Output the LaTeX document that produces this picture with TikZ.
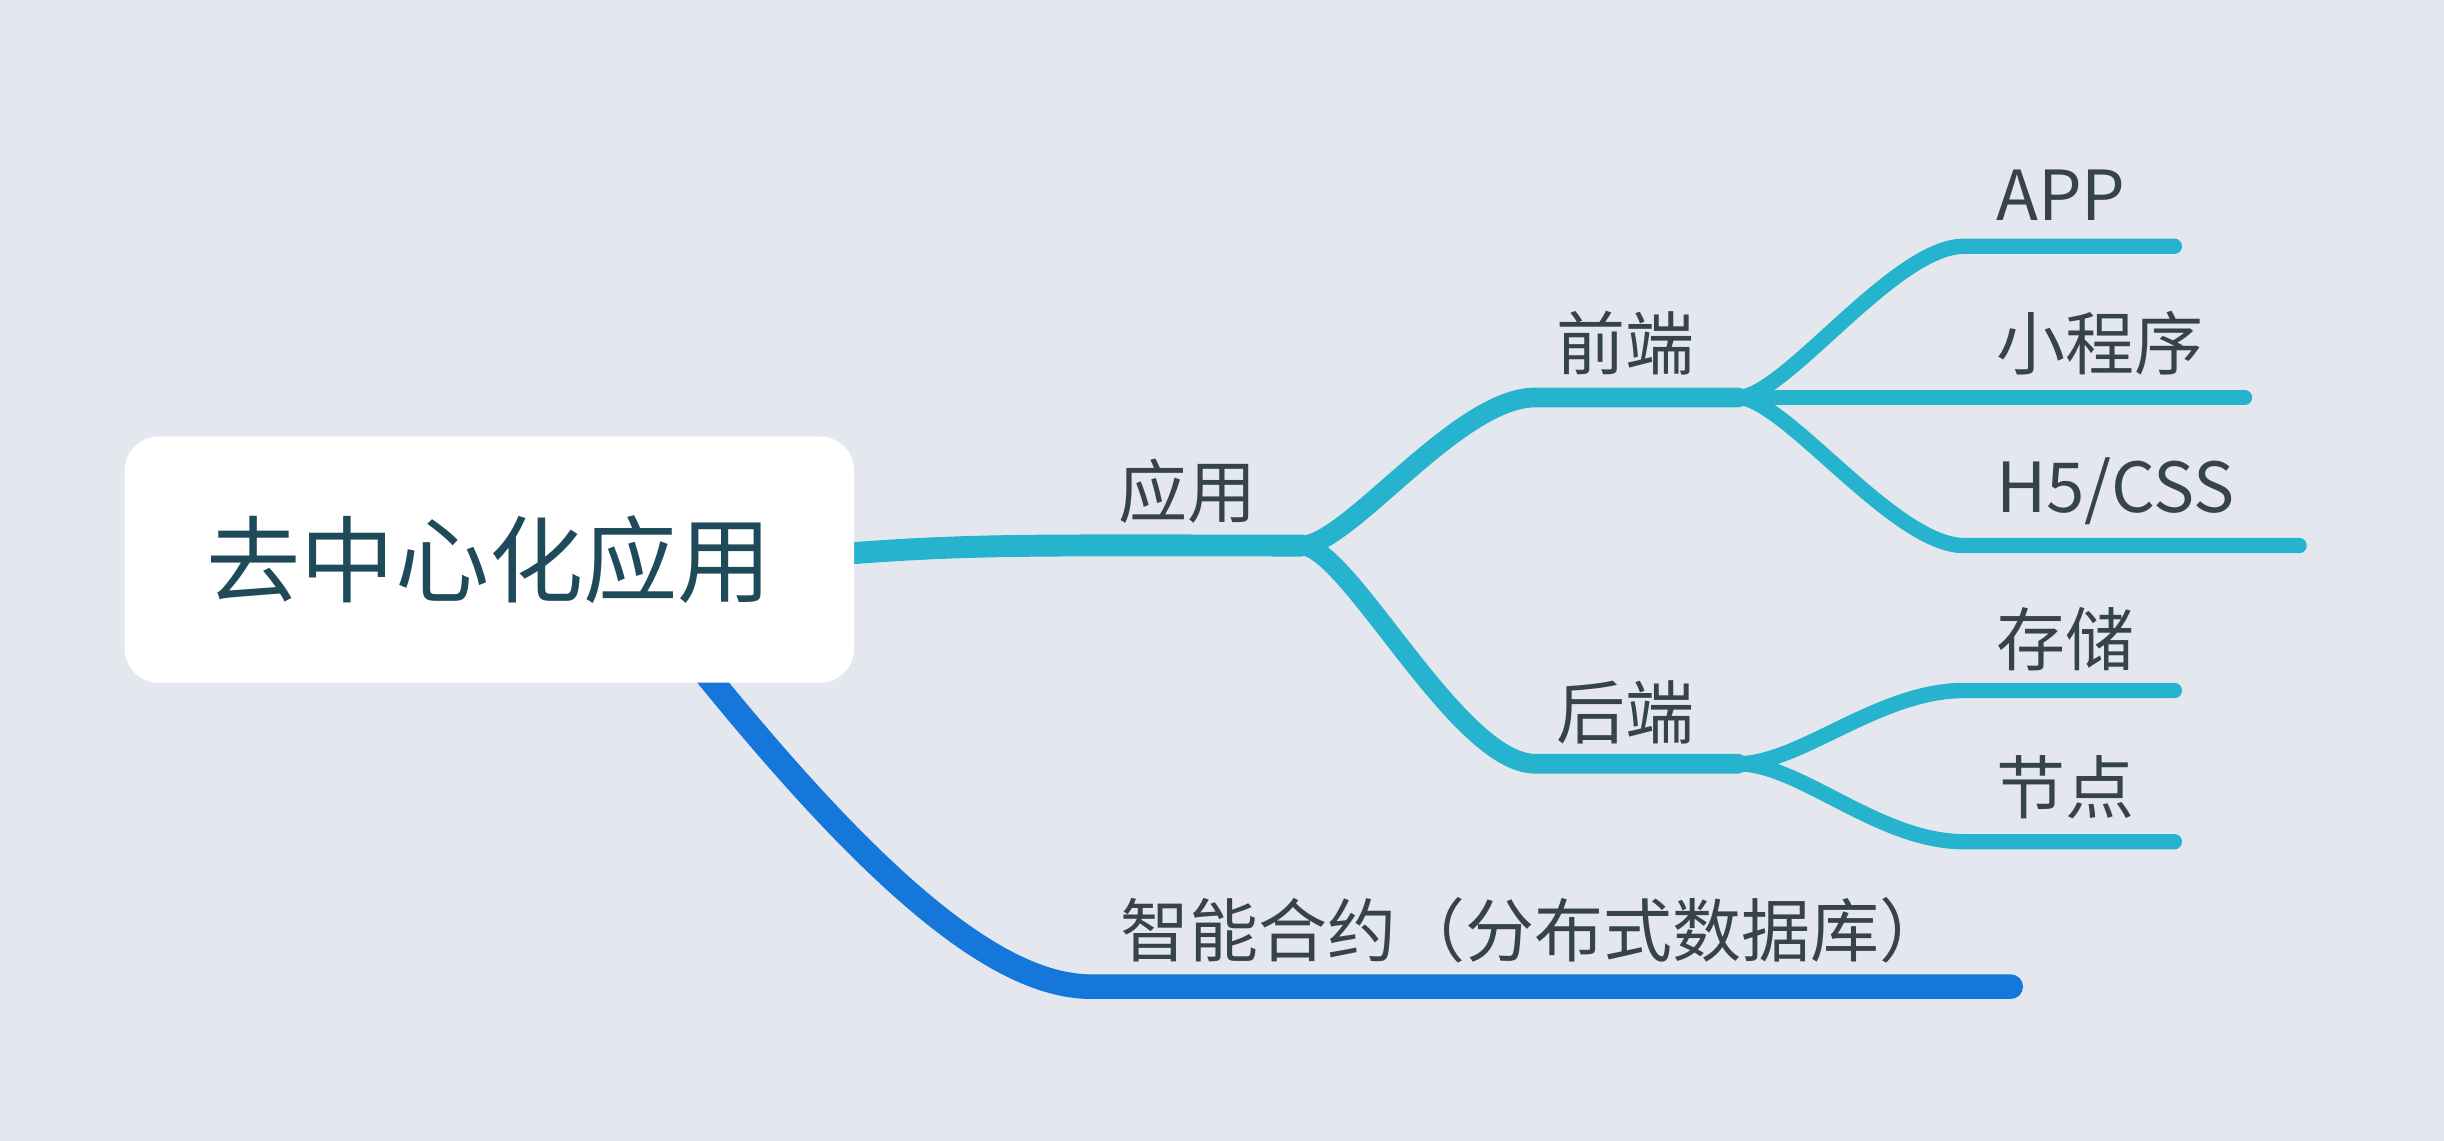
\documentclass[tikz,border=0pt]{standalone}
\usepackage{fontspec}
\setmainfont{Noto Sans CJK SC}
\usepackage{xcolor}
\usepackage{tikz}
\usetikzlibrary{positioning}
\definecolor{bgcol}{HTML}{E4E8EE}
\definecolor{cyanline}{HTML}{25B3CE}
\definecolor{blueline}{HTML}{1677DB}
\definecolor{roottext}{HTML}{1E4A5A}
\definecolor{labeltext}{HTML}{36434C}
\pgfdeclarelayer{back}
\pgfdeclarelayer{lines}
\pgfsetlayers{back,lines,main}

\begin{document}
\begin{tikzpicture}[
    root/.style={rectangle, rounded corners=0.22cm, fill=white, minimum width=4.68cm, minimum height=1.58cm, text=roottext, font=\fontsize{17.2}{20}\selectfont},
    lbl/.style={text=labeltext, inner sep=0pt, font=\fontsize{12.6}{15}\selectfont},
    branch/.style={cyanline, line width=3.6pt, line cap=round},
    twig/.style={cyanline, line width=2.8pt, line cap=round}
  ]
      \useasboundingbox (0,0) rectangle (15.68,7.32);
      \begin{pgfonlayer}{back}
        \fill[bgcol] (0,0) rectangle (15.68,7.32);
      \end{pgfonlayer}

      \node[root] (root) at (3.14,3.73) {去中心化应用};

      \coordinate (japp) at (8.35,3.82);
      \coordinate (jfront) at (11.15,4.77);
      \coordinate (jback) at (11.15,2.42);
      \coordinate (eapp) at (13.95,5.74);
      \coordinate (emini) at (14.4,4.77);
      \coordinate (eweb) at (14.75,3.82);
      \coordinate (estore) at (13.95,2.89);
      \coordinate (enode) at (13.95,1.92);
      \coordinate (econ) at (12.9,0.99);

      \begin{pgfonlayer}{lines}
        % root to app
        \draw [branch, line width=4pt] ([yshift=1.2pt]root.east) .. controls +(0.8,0.06) and +(-1.6,0) .. (japp);
        % app to front
        \draw [branch] (japp) .. controls +(0.3,0) and +(-0.5,0) .. ([xshift=-1.3cm]jfront) -- (jfront);
        % app to back
        \draw [branch] (japp) .. controls +(0.3,0) and +(-0.5,0) .. ([xshift=-1.3cm]jback) -- (jback);

        % front to app, mini, web
        \draw [twig] (jfront) .. controls +(0.3,0) and +(-0.45,0) .. ([xshift=-1.35cm]eapp) -- (eapp);
        \draw [twig] (jfront) -- (emini);
        \draw [twig] (jfront) .. controls +(0.3,0) and +(-0.45,0) .. ([xshift=-2.15cm]eweb) -- (eweb);

        % back to store, node
        \draw [twig] (jback) .. controls +(0.4,0) and +(-0.55,0) .. ([xshift=-1.35cm]estore) -- (estore);
        \draw [twig] (jback) .. controls +(0.4,0) and +(-0.55,0) .. ([xshift=-1.35cm]enode) -- (enode);

        % root to contract
        \draw [blueline, line width=4.5pt, line cap=round] ([xshift=1.2cm,yshift=0.3cm]root.south) .. controls +(1.15,-1.45) and +(-0.65,0) .. ([xshift=-5.9cm]econ) -- (econ);
      \end{pgfonlayer}

      \node[lbl] (app) at (7.62,4.17) {应用};
      \node[lbl] (front) at (10.43,5.12) {前端};
      \node[lbl] (back) at (10.43,2.75) {后端};
      \node[lbl, anchor=west] (appc) at (12.8,6.07) {APP};
      \node[lbl, anchor=west] (mini) at (12.8,5.12) {小程序};
      \node[lbl, anchor=west] (web) at (12.8,4.17) {H5/CSS};
      \node[lbl, anchor=west] (store) at (12.8,3.22) {存储};
      \node[lbl, anchor=west] (nodes) at (12.8,2.27) {节点};
      \node[lbl, anchor=west] (con) at (7.18,1.35) {智能合约（分布式数据库）};
\end{tikzpicture}
\end{document}
